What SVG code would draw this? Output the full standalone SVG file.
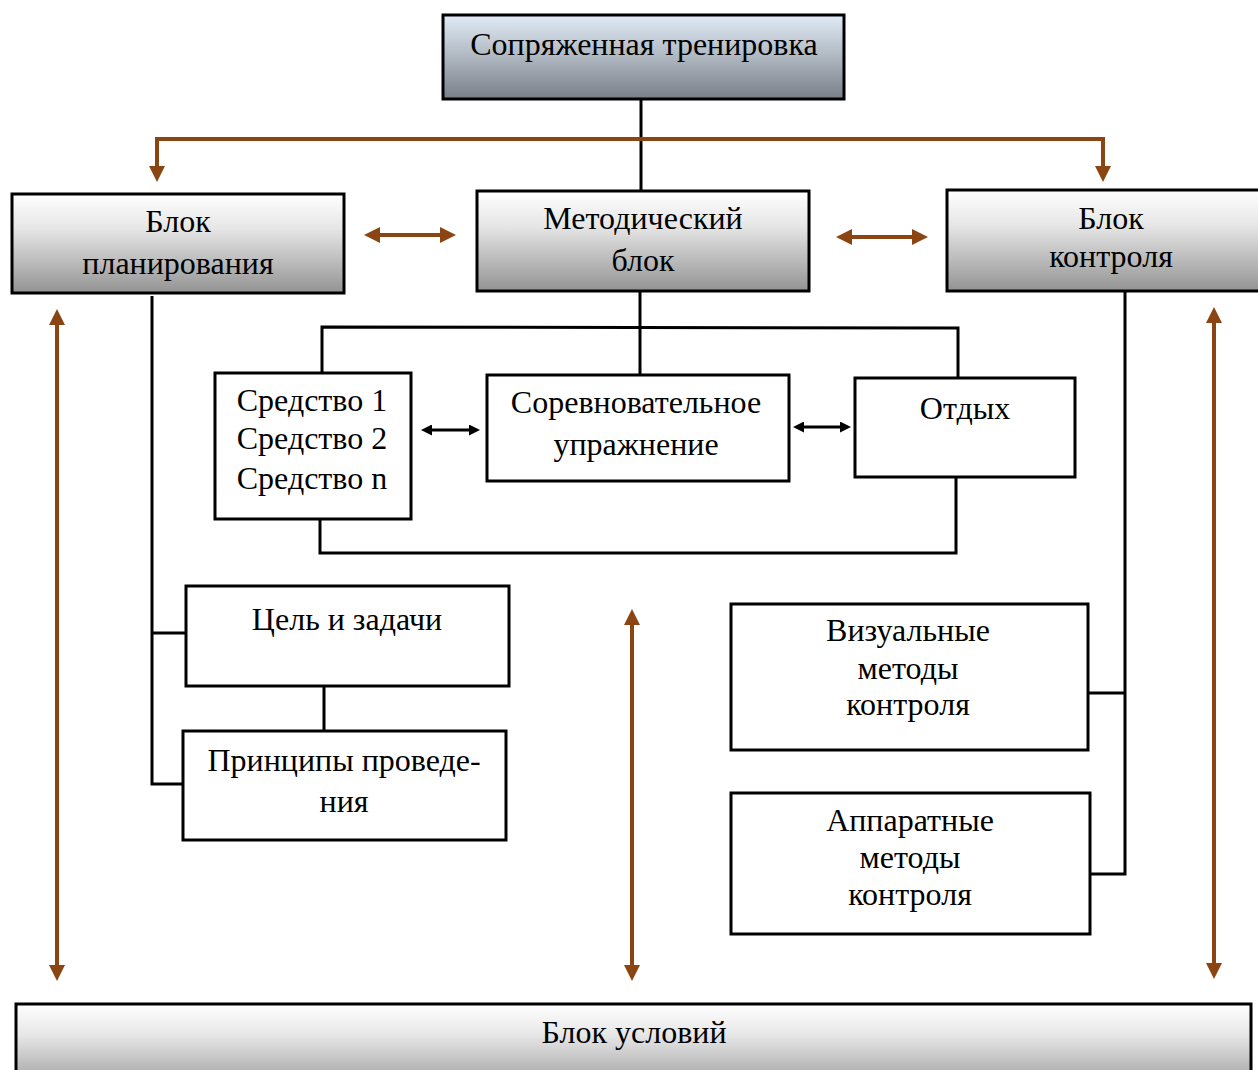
<svg xmlns="http://www.w3.org/2000/svg" width="1258" height="1070" viewBox="0 0 1258 1070">
<defs>
<linearGradient id="gBlue" x1="0" y1="0" x2="0" y2="1">
<stop offset="0" stop-color="#e0ecf8"/>
<stop offset="0.45" stop-color="#b4bcc6"/>
<stop offset="1" stop-color="#787f88"/>
</linearGradient>
<linearGradient id="gGray" x1="0" y1="0" x2="0" y2="1">
<stop offset="0" stop-color="#ffffff"/>
<stop offset="0.35" stop-color="#e6e6e6"/>
<stop offset="1" stop-color="#939393"/>
</linearGradient>
<marker id="bh" viewBox="0 0 16 16" markerWidth="16" markerHeight="16" markerUnits="userSpaceOnUse" refX="0" refY="8" orient="auto-start-reverse">
<path d="M0,0 L16,8 L0,16 z" fill="#8B4513"/>
</marker>
<marker id="kh" viewBox="0 0 11 11" markerWidth="11" markerHeight="11" markerUnits="userSpaceOnUse" refX="0" refY="5.5" orient="auto-start-reverse">
<path d="M0,0 L11,5.5 L0,11 z" fill="#000"/>
</marker>
</defs>
<style>
.box{fill:#fff;stroke:#000;stroke-width:3}
.gb{fill:url(#gGray);stroke:#000;stroke-width:3}
.gbl{fill:url(#gBlue);stroke:#000;stroke-width:3}
.t{font-family:"Liberation Serif","Times New Roman",serif;font-size:32px;fill:#000;text-anchor:middle}
.k{fill:none;stroke:#000;stroke-width:3}
.b{fill:none;stroke:#8B4513;stroke-width:4}
.ka{fill:none;stroke:#000;stroke-width:3}
</style>
<g id="connectors">
<line class="k" x1="641" y1="99" x2="641" y2="191"/>
<polyline class="b" points="157,166 157,139 1103,139 1103,166" marker-start="url(#bh)" marker-end="url(#bh)"/>
<line class="b" x1="380" y1="235" x2="440" y2="235" marker-start="url(#bh)" marker-end="url(#bh)"/>
<line class="b" x1="852" y1="237" x2="912" y2="237" marker-start="url(#bh)" marker-end="url(#bh)"/>
<line class="b" x1="57" y1="325" x2="57" y2="965" marker-start="url(#bh)" marker-end="url(#bh)"/>
<line class="b" x1="632" y1="625" x2="632" y2="965" marker-start="url(#bh)" marker-end="url(#bh)"/>
<line class="b" x1="1214" y1="323" x2="1214" y2="963" marker-start="url(#bh)" marker-end="url(#bh)"/>
<line class="k" x1="640" y1="291" x2="640" y2="375"/>
<polyline class="k" points="322,373 322,327 958,328 958,378"/>
<polyline class="k" points="320,519 320,553 956,553 956,477"/>
<line class="ka" x1="432" y1="430" x2="469" y2="430" marker-start="url(#kh)" marker-end="url(#kh)"/>
<line class="ka" x1="804" y1="427" x2="840" y2="427" marker-start="url(#kh)" marker-end="url(#kh)"/>
<polyline class="k" points="152,296 152,784 183,784"/>
<line class="k" x1="152" y1="633" x2="186" y2="633"/>
<line class="k" x1="324" y1="686" x2="324" y2="731"/>
<polyline class="k" points="1125,291 1125,874 1090,874"/>
<line class="k" x1="1125" y1="693" x2="1088" y2="693"/>
</g>
<g id="n-top">
<rect class="gbl" x="443" y="15" width="401" height="84"/>
<text class="t" x="644" y="55">Сопряженная тренировка</text>
</g>
<g id="n-plan">
<rect class="gb" x="12" y="194" width="332" height="99"/>
<text class="t" x="178" y="232">Блок</text>
<text class="t" x="178" y="274">планирования</text>
</g>
<g id="n-method">
<rect class="gb" x="477" y="191" width="332" height="100"/>
<text class="t" x="643" y="229">Методический</text>
<text class="t" x="643" y="271">блок</text>
</g>
<g id="n-control">
<rect class="gb" x="947" y="190" width="320" height="101"/>
<text class="t" x="1111" y="229">Блок</text>
<text class="t" x="1111" y="267">контроля</text>
</g>
<g id="n-means">
<rect class="box" x="215" y="373" width="196" height="146"/>
<text class="t" x="312" y="411">Средство 1</text>
<text class="t" x="312" y="449">Средство 2</text>
<text class="t" x="312" y="489">Средство n</text>
</g>
<g id="n-comp">
<rect class="box" x="487" y="375" width="302" height="106"/>
<text class="t" x="636" y="413">Соревновательное</text>
<text class="t" x="636" y="455">упражнение</text>
</g>
<g id="n-rest">
<rect class="box" x="855" y="378" width="220" height="99"/>
<text class="t" x="965" y="419">Отдых</text>
</g>
<g id="n-goal">
<rect class="box" x="186" y="586" width="323" height="100"/>
<text class="t" x="347" y="630">Цель и задачи</text>
</g>
<g id="n-princ">
<rect class="box" x="183" y="731" width="323" height="109"/>
<text class="t" x="344" y="771">Принципы проведе-</text>
<text class="t" x="344" y="812">ния</text>
</g>
<g id="n-visual">
<rect class="box" x="731" y="604" width="357" height="146"/>
<text class="t" x="908" y="641">Визуальные</text>
<text class="t" x="908" y="679">методы</text>
<text class="t" x="908" y="715">контроля</text>
</g>
<g id="n-app">
<rect class="box" x="731" y="793" width="359" height="141"/>
<text class="t" x="910" y="831">Аппаратные</text>
<text class="t" x="910" y="868">методы</text>
<text class="t" x="910" y="905">контроля</text>
</g>
<g id="n-cond">
<rect class="gb" x="16" y="1004" width="1235" height="90"/>
<text class="t" x="634" y="1043">Блок условий</text>
</g>
</svg>
